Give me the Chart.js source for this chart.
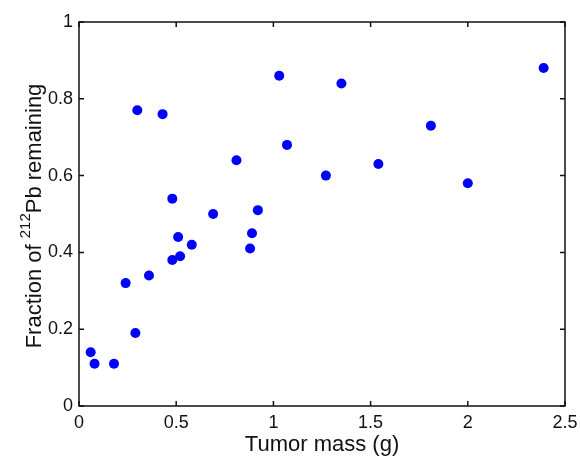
<!DOCTYPE html>
<html>
<head>
<meta charset="utf-8">
<script src="https://cdn.jsdelivr.net/npm/chart.js@4"></script>
<style>
	html, body { margin: 0; padding: 0; background: #fff; }
	#wrap { width: 580px; height: 456px; }
</style>
</head>
<body>
<div id="wrap"><canvas id="chart"></canvas></div>
<script>
// values
const tumorMass = [0.30, 0.43, 1.03, 1.07, 0.81, 0.48, 0.69, 0.92, 1.35, 2.39, 1.81, 1.27, 1.54, 2.00,
	0.89, 0.88, 0.51, 0.58, 0.52, 0.48, 0.36, 0.24, 0.29, 0.06, 0.08, 0.18]
const fractionLeft = [0.77, 0.76, 0.86, 0.68, 0.64, 0.54, 0.50, 0.51, 0.84, 0.88, 0.73, 0.60, 0.63, 0.58,
	0.45, 0.41, 0.44, 0.42, 0.39, 0.38, 0.34, 0.32, 0.19, 0.14, 0.11, 0.11]
const xTicks = [0, 0.5, 1, 1.5, 2, 2.5]
const yTicks = [0, 0.2, 0.4, 0.6, 0.8, 1]

const font = "'Liberation Sans', Arial, sans-serif"

// box round the plot with small inward ticks on all four sides
const frame = {
	id: 'frame',
	afterDatasetsDraw(chart) {
		const { ctx, chartArea: a, scales } = chart
		ctx.save()
		ctx.strokeStyle = '#111'
		ctx.lineWidth = 1.5
		ctx.strokeRect(a.left, a.top, a.right - a.left, a.bottom - a.top)
		ctx.beginPath()
		xTicks.forEach(v => {
			const px = scales.x.getPixelForValue(v)
			ctx.moveTo(px, a.bottom); ctx.lineTo(px, a.bottom - 5)
			ctx.moveTo(px, a.top); ctx.lineTo(px, a.top + 5)
		})
		yTicks.forEach(v => {
			const py = scales.y.getPixelForValue(v)
			ctx.moveTo(a.left, py); ctx.lineTo(a.left + 5, py)
			ctx.moveTo(a.right, py); ctx.lineTo(a.right - 5, py)
		})
		ctx.stroke()
		ctx.restore()
	}
}

// y title needs a superscript, so it is written by hand
const yTitle = {
	id: 'yTitle',
	afterDraw(chart) {
		const { ctx, chartArea: a } = chart
		const parts = [
			{ t: 'Fraction of ', size: 22, rise: 0 },
			{ t: '212', size: 15, rise: 11 },
			{ t: 'Pb remaining', size: 22, rise: 0 }
		]
		ctx.save()
		ctx.fillStyle = '#111'
		ctx.textBaseline = 'alphabetic'
		ctx.textAlign = 'left'
		let total = 0
		parts.forEach(p => { ctx.font = `${p.size}px ${font}`; p.w = ctx.measureText(p.t).width; total += p.w })
		ctx.translate(41, (a.top + a.bottom) / 2 + 2)
		ctx.rotate(-Math.PI / 2)
		let x = -total / 2
		parts.forEach(p => {
			ctx.font = `${p.size}px ${font}`
			ctx.fillText(p.t, x, -p.rise)
			x += p.w
		})
		ctx.restore()
	}
}

new Chart(document.getElementById('chart'), {
	type: 'scatter',
	data: {
		datasets: [{
			data: tumorMass.map((m, i) => ({ x: m, y: fractionLeft[i] })),
			backgroundColor: '#0000ff',
			borderWidth: 0,
			pointRadius: 5,
			pointHoverRadius: 5
		}]
	},
	options: {
		responsive: true,
		maintainAspectRatio: false,
		animation: false,
		layout: { padding: { top: 22, right: 15, left: 0, bottom: 0 } },
		plugins: { legend: { display: false }, tooltip: { enabled: false } },
		scales: {
			x: {
				type: 'linear',
				min: 0, max: 2.5,
				afterBuildTicks: s => { s.ticks = xTicks.map(v => ({ value: v })) },
				afterFit: s => { s.height = 50; s.paddingLeft = 0; s.paddingRight = 0 },
				grid: { display: false, drawTicks: false, tickLength: 0 },
				border: { display: false },
				ticks: { color: '#111', padding: 6, font: { family: font, size: 18 }, maxRotation: 0, callback: v => String(v) },
				title: { display: true, text: 'Tumor mass (g)', color: '#111', padding: 0, font: { family: font, size: 22, lineHeight: 1 } }
			},
			y: {
				type: 'linear',
				min: 0, max: 1,
				afterBuildTicks: s => { s.ticks = yTicks.map(v => ({ value: v })) },
				afterFit: s => { s.width = 79 },
				grid: { display: false, drawTicks: false, tickLength: 0 },
				border: { display: false },
				ticks: { color: '#111', padding: 6, font: { family: font, size: 18 }, callback: v => String(v) },
				title: { display: false }
			}
		}
	},
	plugins: [frame, yTitle]
})
</script>
</body>
</html>
